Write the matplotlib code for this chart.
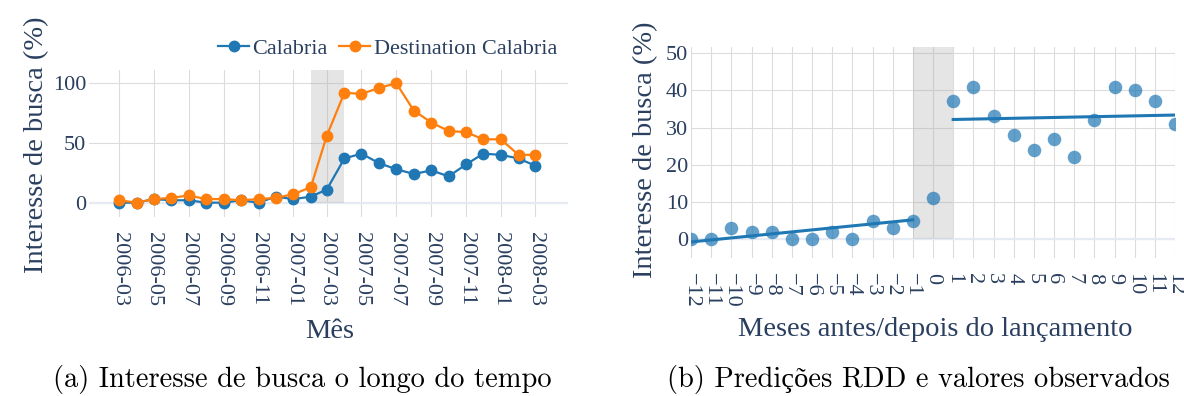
import numpy as np
import pandas as pd
import matplotlib
matplotlib.use("Agg")
import matplotlib.pyplot as plt
import matplotlib.dates as mdates

# data
months = pd.date_range("2006-03-01", "2008-03-01", freq="MS")
calabria = [0, 0, 3, 2, 2, 0, 0, 2, 0, 5, 3, 5, 11, 37, 41, 33, 28, 24, 27, 22, 32, 41, 40, 37, 31]
destination = [2, 0, 3, 4, 6, 3, 3, 2, 3, 4, 7, 13, 56, 92, 91, 96, 100, 77, 67, 60, 59, 53, 53, 40, 40]

rel_month = np.arange(-12, 13)
observed = np.array(calabria)

launch_start, launch_end = pd.Timestamp("2007-02-01"), pd.Timestamp("2007-04-01")
rel_start, rel_end = -1, 1

W, H = 1184, 396
TXT = "#2a3f5f"
GRID = "#dcdcdc"
ZERO = "#e6ebf3"
BLUE = "#1f77b4"
ORANGE = "#ff7f0e"

plt.rcParams["font.family"] = ["Liberation Serif", "DejaVu Serif"]

fig = plt.figure(figsize=(W / 100, H / 100), dpi=100)


def px_axes(l, t, r, b):
    return fig.add_axes([l / W, 1 - b / H, (r - l) / W, (b - t) / H])


def style(ax):
    for s in ax.spines.values():
        s.set_visible(False)
    ax.grid(True, color=GRID, lw=0.8, zorder=0)
    ax.set_axisbelow(True)
    ax.axhline(0, color=ZERO, lw=1.6, zorder=1)
    ax.tick_params(length=0, colors=TXT, labelsize=16)
    ax.tick_params(axis="y", pad=2)
    ax.tick_params(axis="x", pad=11)


# ---- (a) search interest over time
ax1 = px_axes(89, 70, 568, 217)
style(ax1)
ax1.set_ylim(-12, 111)
ax1.set_xlim(pd.Timestamp("2006-01-07"), pd.Timestamp("2008-04-28"))
ax1.fill_between([launch_start, launch_end], 0, 111, color="#a9a9a9", alpha=0.3, lw=0, zorder=1.5)
ax1.plot(months, calabria, color=BLUE, lw=1.6, marker="o", ms=7.5, zorder=3, label="Calabria")
ax1.plot(months, destination, color=ORANGE, lw=1.6, marker="o", ms=7.5, zorder=3,
         label="Destination Calabria")
ax1.set_yticks([0, 50, 100])
ax1.set_xticks(months[::2])
ax1.xaxis.set_major_formatter(mdates.DateFormatter("%Y-%m"))
for lab in ax1.get_xticklabels():
    lab.set_rotation(-90)
    lab.set_ha("center")
    lab.set_va("top")
ax1.legend(loc="lower right", bbox_to_anchor=(1.0, 1.0), ncol=2, frameon=False,
           fontsize=16, handlelength=1.4, handletextpad=0.15, columnspacing=0.5,
           borderaxespad=0.1, labelcolor=TXT)

# ---- (b) RDD predictions vs observed
ax2 = px_axes(691, 47, 1175, 258)
style(ax2)
ax2.set_ylim(-5, 51.6)
ax2.set_xlim(-12, 12)
ax2.fill_between([rel_start, rel_end], 0, 51.6, color="#a9a9a9", alpha=0.3, lw=0, zorder=1.5)
ax2.scatter(rel_month, observed, s=95, color=BLUE, alpha=0.7, lw=0, zorder=3)

# linear fits on each side of the launch
pre = rel_month <= 0
post = rel_month >= 1
b_pre = np.polyfit(rel_month[pre], observed[pre], 1)
b_post = np.polyfit(rel_month[post], observed[post], 1)
x_pre = rel_month[rel_month < 0]
x_post = rel_month[post]
ax2.plot(x_pre, np.polyval(b_pre, x_pre), color=BLUE, lw=2.2, zorder=4)
ax2.plot(x_post, np.polyval(b_post, x_post), color=BLUE, lw=2.2, zorder=4)
ax2.set_yticks(range(0, 51, 10))
ax2.set_xticks(rel_month)
ax2.set_xticklabels([str(v).replace("-", "\u2212") for v in rel_month], rotation=-90,
                    ha="center", va="top")


# axis titles
def ftext(x, y, s, **kw):
    fig.text(x / W, 1 - y / H, s, ha="center", va="center", color=TXT, fontsize=20.5, **kw)


ftext(37, 145, "Interesse de busca (%)", rotation=90)
ftext(330, 331, "Mês")
ftext(646, 150, "Interesse de busca (%)", rotation=90)
ftext(935, 329, "Meses antes/depois do lançamento")

# captions (LaTeX-like font)
cap = dict(ha="center", va="center", color="black", fontsize=20.5,
           family=["cmr10", "Liberation Serif"])
fig.text(302 / W, 1 - 380 / H, "(a) Interesse de busca o longo do tempo", **cap)
fig.text(918 / W, 1 - 380 / H, "(b) Predições RDD e valores observados", **cap)

fig.savefig("out.png", dpi=100)
